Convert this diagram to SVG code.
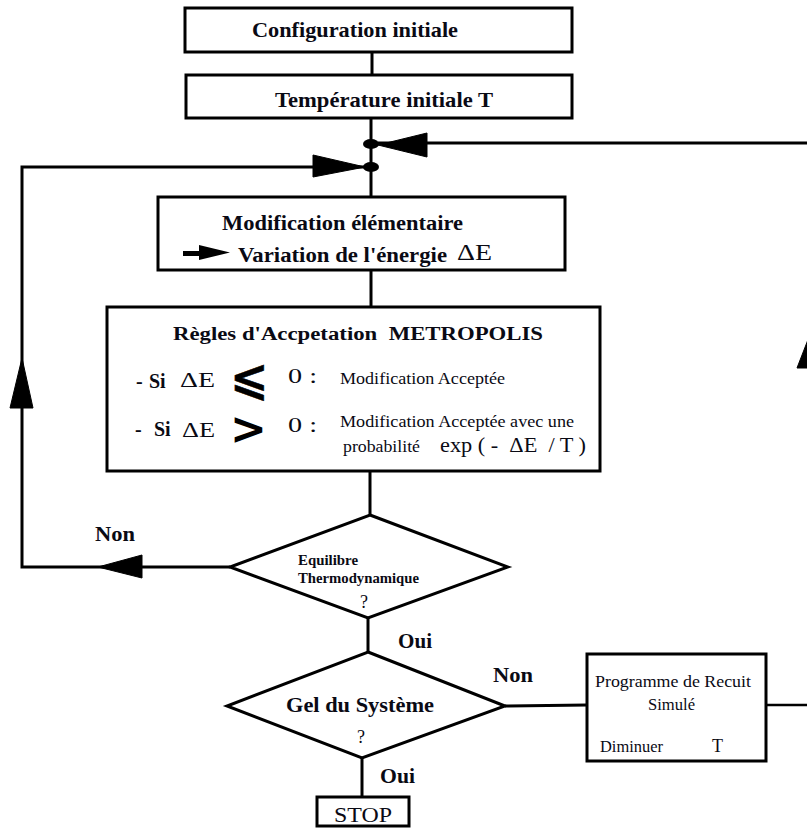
<svg xmlns="http://www.w3.org/2000/svg" width="807" height="829" viewBox="0 0 807 829">
<style>
.box{fill:#fff;stroke:#000;stroke-width:3}
.ln{fill:none;stroke:#000;stroke-width:3}
.thin{fill:none;stroke:#000;stroke-width:2.5}
.ah{fill:#000;stroke:#000;stroke-width:1}
.b{font-family:"Liberation Serif","Times New Roman",serif;font-weight:bold;fill:#0a0a14}
.r{font-family:"Liberation Serif","Times New Roman",serif;fill:#0a0a14}
.sym{font-family:"DejaVu Sans",sans-serif;fill:#000}
</style>
<rect width="807" height="829" fill="#fff"/>
<g id="connectors">
<line class="ln" x1="372" y1="52" x2="372" y2="75"/>
<line class="ln" x1="371" y1="118" x2="371" y2="197"/>
<line class="ln" x1="371" y1="270" x2="371" y2="307"/>
<line class="ln" x1="370" y1="471" x2="370" y2="515"/>
<line class="ln" x1="368" y1="618" x2="368" y2="652"/>
<line class="ln" x1="362" y1="758" x2="362" y2="797"/>
<line class="ln" x1="505" y1="706" x2="587" y2="705"/>
<line class="thin" x1="766" y1="705" x2="809" y2="705"/>
<line class="ln" x1="809" y1="705" x2="809" y2="143"/>
<line class="ln" x1="809" y1="143" x2="378" y2="143"/>
<polyline class="ln" points="230,567 22,567 22,167 365,167"/>
<ellipse cx="371" cy="144" rx="8" ry="5" fill="#000"/>
<ellipse cx="371" cy="167" rx="8" ry="5" fill="#000"/>
<polygon class="ah" points="378,145 427,133 427,157"/>
<polygon class="ah" points="365,167 313,155 313,177"/>
<polygon class="ah" points="22,358 10,408 33,408"/>
<polygon class="ah" points="98,567 142,555 142,578"/>
<polygon class="ah" points="809,337 797,368 821,368"/>
</g>
<g id="n-config">
<rect class="box" x="185" y="8" width="387" height="44"/>
<text class="b" x="252" y="37" font-size="21" textLength="206" lengthAdjust="spacingAndGlyphs">Configuration initiale</text>
</g>
<g id="n-temp">
<rect class="box" x="186" y="75" width="386" height="43"/>
<text class="b" x="275" y="107" font-size="21" textLength="218" lengthAdjust="spacingAndGlyphs">Température initiale T</text>
</g>
<g id="n-modif">
<rect class="box" x="158" y="197" width="407" height="73"/>
<text class="b" x="222" y="230" font-size="20" textLength="241" lengthAdjust="spacingAndGlyphs">Modification élémentaire</text>
<path d="M183,251 L199,251 L199,245 L230,252.5 L199,260 L199,256 L183,256 Z" fill="#000"/>
<text class="b" x="238" y="262" font-size="20" textLength="209" lengthAdjust="spacingAndGlyphs">Variation de l'énergie</text>
<text class="r" x="457" y="260" font-size="23" textLength="35" lengthAdjust="spacingAndGlyphs">ΔE</text>
</g>
<g id="n-metropolis">
<rect class="box" x="107" y="307" width="493" height="164"/>
<text class="b" x="173" y="340" font-size="18" textLength="370" lengthAdjust="spacingAndGlyphs" xml:space="preserve">Règles d'Accpetation  METROPOLIS</text>
<text class="b" x="136" y="388" font-size="20">-</text>
<text class="b" x="149" y="388" font-size="20">Si</text>
<text class="r" x="180" y="387" font-size="22" textLength="35" lengthAdjust="spacingAndGlyphs">ΔE</text>
<text class="sym" x="230" y="394" font-size="46" font-weight="bold" stroke="#000" stroke-width="0.5">⩽</text>
<text class="r" x="288" y="383" font-size="20" textLength="29" lengthAdjust="spacingAndGlyphs">0 :</text>
<text class="r" x="340" y="384" font-size="16" textLength="165" lengthAdjust="spacingAndGlyphs">Modification Acceptée</text>
<text class="b" x="135" y="436" font-size="20">-</text>
<text class="b" x="154" y="436" font-size="20">Si</text>
<text class="r" x="182" y="437" font-size="22" textLength="33" lengthAdjust="spacingAndGlyphs">ΔE</text>
<text class="sym" x="230" y="444" font-size="44" font-weight="bold">&gt;</text>
<text class="r" x="288" y="432" font-size="20" textLength="29" lengthAdjust="spacingAndGlyphs">0 :</text>
<text class="r" x="340" y="427" font-size="16" textLength="234" lengthAdjust="spacingAndGlyphs">Modification Acceptée avec une</text>
<text class="r" x="343" y="452" font-size="16" textLength="77" lengthAdjust="spacingAndGlyphs">probabilité</text>
<text class="r" x="440" y="452" font-size="21" textLength="146" lengthAdjust="spacingAndGlyphs" xml:space="preserve">exp ( -  ΔE  / T )</text>
</g>
<g id="n-equilibre">
<polygon class="box" points="370,515 508,567 368,618 230,567"/>
<text class="b" x="298" y="565" font-size="14" textLength="60" lengthAdjust="spacingAndGlyphs">Equilibre</text>
<text class="b" x="298" y="583" font-size="14" textLength="121" lengthAdjust="spacingAndGlyphs">Thermodynamique</text>
<text class="r" x="360" y="608" font-size="18" fill="#333">?</text>
</g>
<g id="n-gel">
<polygon class="box" points="368,652 505,706 362,758 227,706"/>
<text class="b" x="286" y="712" font-size="21" textLength="148" lengthAdjust="spacingAndGlyphs">Gel du Système</text>
<text class="r" x="357" y="743" font-size="18" fill="#333">?</text>
</g>
<g id="n-stop">
<rect class="box" x="317" y="797" width="92" height="29"/>
<text class="r" x="334" y="822" font-size="22" textLength="58" lengthAdjust="spacingAndGlyphs">STOP</text>
</g>
<g id="n-recuit">
<rect class="box" x="587" y="654" width="179" height="107"/>
<text class="r" x="595" y="687" font-size="17" textLength="156" lengthAdjust="spacingAndGlyphs">Programme de Recuit</text>
<text class="r" x="648" y="710" font-size="17" textLength="47" lengthAdjust="spacingAndGlyphs">Simulé</text>
<text class="r" x="600" y="752" font-size="17" textLength="63" lengthAdjust="spacingAndGlyphs">Diminuer</text>
<text class="r" x="712" y="752" font-size="18">T</text>
</g>
<g id="labels">
<text class="b" x="95" y="541" font-size="21" textLength="40" lengthAdjust="spacingAndGlyphs">Non</text>
<text class="b" x="398" y="648" font-size="21" textLength="34" lengthAdjust="spacingAndGlyphs">Oui</text>
<text class="b" x="493" y="682" font-size="21" textLength="40" lengthAdjust="spacingAndGlyphs">Non</text>
<text class="b" x="380" y="783" font-size="21" textLength="35" lengthAdjust="spacingAndGlyphs">Oui</text>
</g>
</svg>
